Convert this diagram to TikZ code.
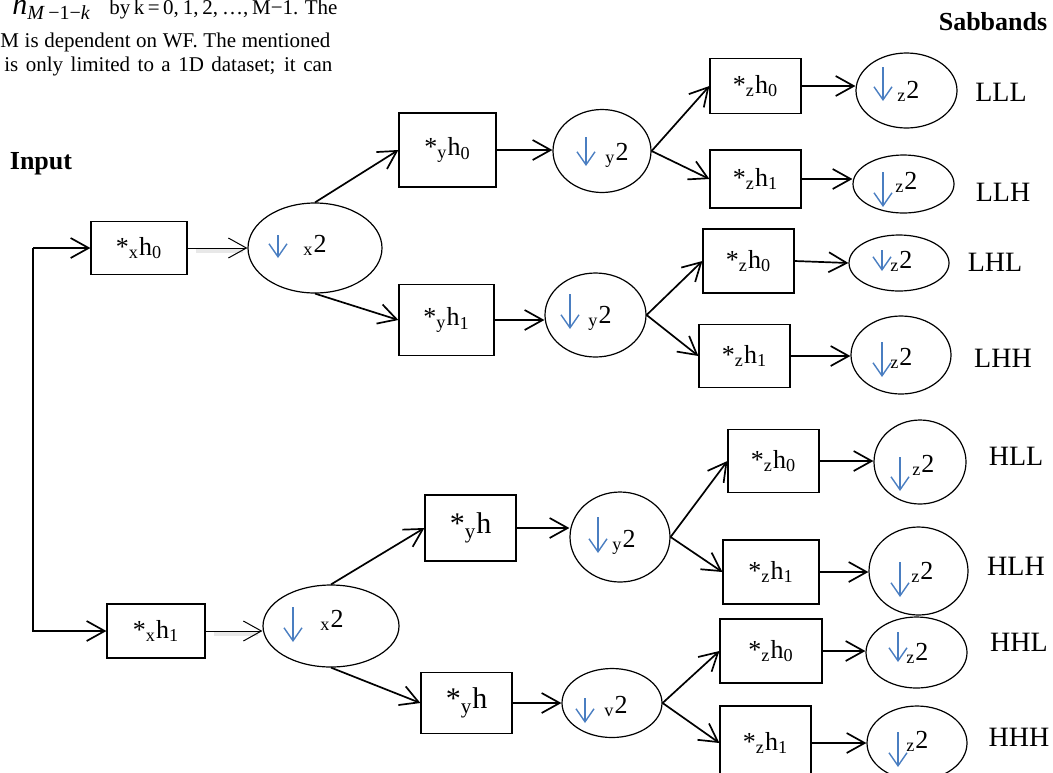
\documentclass[tikz,border=0pt]{standalone}
\usepackage{fontspec}
\setmainfont{Liberation Serif}
\usetikzlibrary{shapes.geometric,arrows.meta}
\definecolor{arrblue}{RGB}{74,126,193}
\begin{document}
\begin{tikzpicture}[x=0.5pt,y=-0.5pt,
 conn/.style={line width=0.85pt,-{Straight Barb[length=9pt,width=10pt]}},
 thinconn/.style={line width=0.5pt,-{Straight Barb[length=9pt,width=10pt]}},
 shade/.style={line width=2.2pt,gray!40,opacity=0.45},
 fbox/.style={draw,line width=0.6pt,inner sep=0pt,font=\fontsize{13}{15}\selectfont},
 dsell/.style={draw,ellipse,line width=0.6pt,inner sep=0pt},
 dstxt/.style={anchor=base west,inner sep=0pt,font=\fontsize{13}{15}\selectfont},
 dsarr/.style={arrblue,line width=0.7pt,-{Straight Barb[length=6.5pt,width=9pt]}},
 band/.style={inner sep=0pt,font=\fontsize{14}{16}\selectfont},
 head/.style={inner sep=0pt,font=\fontsize{13}{15}\selectfont\bfseries},
 para/.style={anchor=base west,inner sep=0pt,font=\fontsize{10.5}{12}\selectfont}]
\path[use as bounding box] (0,0) rectangle (1053,772);
\clip (0,0) rectangle (1053,772);

% paragraph fragment
\node[para] (p1a) at (12,14) {{\fontsize{15}{15}\selectfont\textit{h}}\raisebox{-2.5pt}{\fontsize{10}{10}\selectfont\textit{M}\,−1−\textit{k}}};
\node[para,font=\fontsize{10.5}{12}\selectfont] (p1b) at (109,14) {\makebox[111pt][s]{by k = 0, 1, 2, …, M−1. The}};
\node[para] (p2) at (0,47) {\makebox[165pt][s]{M is dependent on WF. The mentioned}};
\node[para] (p3) at (4,71) {\makebox[164pt][s]{is only limited to a 1D dataset; it can}};

\node[head] (inlab) at (41,164) {Input};
\node[head] (sblab) at (993,22) {Sabbands};

% level x
\node[fbox,minimum width=48pt,minimum height=26.5pt] (bx0) at (139,248) {*\textsubscript{x}h\textsubscript{0}};
\node[dsell,minimum width=67pt,minimum height=45pt] (ex0) at (315,248) {};
\node[dstxt] (tx0) at (303,252) {\textsubscript{x}2};
\draw[dsarr] (278,235) -- (278,258);

\node[fbox,minimum width=49pt,minimum height=27pt] (bx1) at (156,631) {*\textsubscript{x}h\textsubscript{1}};
\node[dsell,minimum width=68pt,minimum height=41pt] (ex1) at (331,626) {};
\node[dstxt] (tx1) at (320,627) {\textsubscript{x}2};
\draw[dsarr] (293,607) -- (293,642);

% level y
\node[fbox,minimum width=48.5pt,minimum height=37pt] (by0) at (447.5,150) {*\textsubscript{y}h\textsubscript{0}};
\node[dsell,minimum width=49pt,minimum height=41.5pt] (ey0) at (602,151) {};
\node[dstxt] (ty0) at (605,160) {\textsubscript{y}2};
\draw[dsarr] (586,137) -- (586,166);

\node[fbox,minimum width=47.5pt,minimum height=35.5pt] (by1) at (446.5,320) {*\textsubscript{y}h\textsubscript{1}};
\node[dsell,minimum width=50.5pt,minimum height=42pt] (ey1) at (595.5,315) {};
\node[dstxt] (ty1) at (588,323) {\textsubscript{y}2};
\draw[dsarr] (570,294) -- (570,329);

\node[fbox,minimum width=45.5pt,minimum height=33pt,font=\fontsize{15}{17}\selectfont] (by2) at (470.5,528) {*\textsubscript{y}h};
\node[dsell,minimum width=50pt,minimum height=45pt] (ey2) at (620,537) {};
\node[dstxt] (ty2) at (612,547) {\textsubscript{y}2};
\draw[dsarr] (598,517) -- (598,553);

\node[fbox,minimum width=45.5pt,minimum height=30.5pt,font=\fontsize{15}{17}\selectfont] (by3) at (466.5,703) {*\textsubscript{y}h};
\node[dsell,minimum width=50pt,minimum height=34.5pt] (ey3) at (612,703) {};
\node[dstxt] (ty3) at (604,713) {\textsubscript{v}2};
\draw[dsarr] (585,698) -- (585,723);

% level z
\node[fbox,minimum width=45.5pt,minimum height=27.5pt] (zb1) at (755.5,86) {*\textsubscript{z}h\textsubscript{0}};
\node[dsell,minimum width=50.5pt,minimum height=37.5pt] (ze1) at (906.5,90.5) {};
\node[dstxt] (zt1) at (897,98) {\textsubscript{z}2};
\draw[dsarr] (883,67) -- (883,101);
\node[band] (s1) at (1001,92.5) {LLL};

\node[fbox,minimum width=45.5pt,minimum height=29pt] (zb2) at (755.5,179) {*\textsubscript{z}h\textsubscript{1}};
\node[dsell,minimum width=50.5pt,minimum height=29pt] (ze2) at (903.5,184) {};
\node[dstxt] (zt2) at (895,189) {\textsubscript{z}2};
\draw[dsarr] (883,172) -- (883,207);
\node[band] (s2) at (1003,192) {LLH};

\node[fbox,minimum width=45.5pt,minimum height=32pt] (zb3) at (748.5,261) {*\textsubscript{z}h\textsubscript{0}};
\node[dsell,minimum width=50pt,minimum height=28pt] (ze3) at (899,263) {};
\node[dstxt] (zt3) at (890,268) {\textsubscript{z}2};
\draw[dsarr] (882,250) -- (882,271);
\node[band] (s3) at (995,262) {LHL};

\node[fbox,minimum width=45.5pt,minimum height=31.5pt] (zb4) at (744.5,356) {*\textsubscript{z}h\textsubscript{1}};
\node[dsell,minimum width=50pt,minimum height=39pt] (ze4) at (901,355) {};
\node[dstxt] (zt4) at (890,365) {\textsubscript{z}2};
\draw[dsarr] (882,342) -- (882,377);
\node[band] (s4) at (1003,358) {LHH};

\node[fbox,minimum width=45.5pt,minimum height=31.5pt] (zb5) at (773.5,461) {*\textsubscript{z}h\textsubscript{0}};
\node[dsell,minimum width=46pt,minimum height=42pt] (ze5) at (920,462) {};
\node[dstxt] (zt5) at (912,472) {\textsubscript{z}2};
\draw[dsarr] (900,457) -- (900,491);
\node[band] (s5) at (1016,456) {HLL};

\node[fbox,minimum width=48pt,minimum height=32pt] (zb6) at (771,572) {*\textsubscript{z}h\textsubscript{1}};
\node[dsell,minimum width=49.5pt,minimum height=44pt] (ze6) at (918.5,571) {};
\node[dstxt] (zt6) at (911,579) {\textsubscript{z}2};
\draw[dsarr] (900,562) -- (900,597);
\node[band] (s6) at (1016,566) {HLH};

\node[fbox,minimum width=51pt,minimum height=32pt] (zb7) at (771,651) {*\textsubscript{z}h\textsubscript{0}};
\node[dsell,minimum width=50.5pt,minimum height=35.5pt] (ze7) at (916.5,652.5) {};
\node[dstxt] (zt7) at (906,660) {\textsubscript{z}2};
\draw[dsarr] (898,632) -- (898,662);
\node[band] (s7) at (1019,642) {HHL};

\node[fbox,minimum width=45.5pt,minimum height=37pt] (zb8) at (765.5,743) {*\textsubscript{z}h\textsubscript{1}};
\node[dsell,minimum width=50pt,minimum height=37pt] (ze8) at (917,743) {};
\node[dstxt] (zt8) at (906,748) {\textsubscript{z}2};
\draw[dsarr] (898,732) -- (898,767);
\node[band] (s8) at (1019,737) {HHH};

% connectors
\coordinate (c0) at (33,248);
\coordinate (c1) at (33,631);
\draw[conn] (c0) -- (bx0.west);
\draw[conn] (c0) -- (c1) -- (bx1.west);
\draw[shade] ([xshift=4pt,yshift=-1.5pt]bx0.east) -- ([xshift=-2pt,yshift=-1.5pt]bx0.east -| ex0.west);
\draw[shade] ([xshift=4pt,yshift=-1.5pt]bx1.east) -- ([xshift=-2pt,yshift=-1.5pt]bx1.east -| ex1.west);
\draw[thinconn] (bx0.east) -- (bx0.east -| ex0.west);
\draw[thinconn] (bx1.east) -- (bx1.east -| ex1.west);

\draw[conn] (ex0.north) -- (by0.west);
\draw[conn] (ex0.south) -- (by1.west);
\draw[conn] (ex1.north) -- (by2.west);
\draw[conn] (ex1.south) -- (by3.west);

\draw[conn] (by0.east) -- (by0.east -| ey0.west);
\draw[conn] (by1.east) -- (by1.east -| ey1.west);
\draw[conn] (by2.east) -- (by2.east -| ey2.west);
\draw[conn] (by3.east) -- (by3.east -| ey3.west);

\draw[conn] (ey0.east) -- (zb1.west);
\draw[conn] (ey0.east) -- (zb2.west);
\draw[conn] (ey1.east) -- (zb3.west);
\draw[conn] (ey1.east) -- (zb4.west);
\draw[conn] (ey2.east) -- (zb5.west);
\draw[conn] (ey2.east) -- (zb6.west);
\draw[conn] (ey3.east) -- (zb7.west);
\draw[conn] (ey3.east) -- (zb8.west);

\draw[conn] (zb1.east) -- (zb1.east -| ze1.west);
\draw[conn] (zb2.east) -- (zb2.east -| ze2.west);
\draw[conn] (zb3.east) -- (ze3.west);
\draw[conn] (zb4.east) -- (zb4.east -| ze4.west);
\draw[conn] (zb5.east) -- (zb5.east -| ze5.west);
\draw[conn] (zb6.east) -- (zb6.east -| ze6.west);
\draw[conn] (zb7.east) -- (zb7.east -| ze7.west);
\draw[conn] (zb8.east) -- (zb8.east -| ze8.west);
\end{tikzpicture}
\end{document}
